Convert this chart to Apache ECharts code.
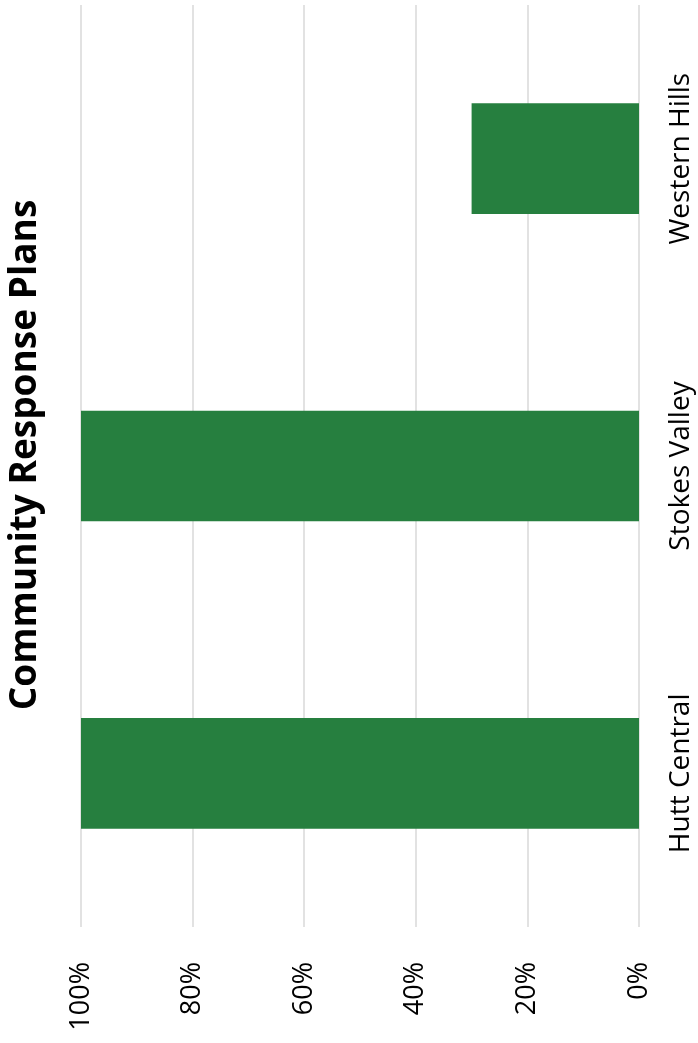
<!DOCTYPE html>
<html>
<head>
<meta charset="utf-8">
<script src="https://cdn.jsdelivr.net/npm/echarts@6/dist/echarts.min.js"></script>
<style>
  html, body { margin: 0; padding: 0; background: #ffffff; }
  #chart { width: 698px; height: 1043px; }
</style>
</head>
<body>
<div id="chart"></div>
<script>
// Share of each community with a response plan in place
const categories = ['Hutt Central', 'Stokes Valley', 'Western Hills'];
const planShare = [1.0, 1.0, 0.3];
const titleText = 'Community Response Plans';

const chart = echarts.init(document.getElementById('chart'));

chart.setOption({
  backgroundColor: '#ffffff',
  animation: false,
  grid: { left: 81, right: 59, top: 5, bottom: 116, containLabel: false },
  xAxis: {
    type: 'value',
    inverse: true,
    min: 0,
    max: 1,
    interval: 0.2,
    axisLine: { show: false },
    axisTick: { show: false },
    splitLine: { show: true, lineStyle: { color: '#D9D9D9', width: 1.5 } },
    axisLabel: {
      rotate: 90,
      margin: 35,
      fontSize: 27,
      fontFamily: 'Open Sans',
      color: '#000000',
      formatter: v => Math.round(v * 100) + '%'
    }
  },
  yAxis: {
    type: 'category',
    position: 'right',
    data: categories,
    axisLine: { show: false },
    axisTick: { show: false },
    axisLabel: {
      rotate: 90,
      margin: 42,
      align: 'center',
      verticalAlign: 'middle',
      fontSize: 28,
      fontFamily: 'Open Sans',
      color: '#000000'
    }
  },
  series: [{
    type: 'bar',
    data: planShare,
    barCategoryGap: '64%',
    itemStyle: { color: '#267F3F' }
  }],
  graphic: [{
    type: 'text',
    x: 25,
    y: 455,
    rotation: Math.PI / 2,
    style: {
      text: titleText,
      fontSize: 37,
      fontWeight: 'bold',
      fontFamily: 'Open Sans',
      fill: '#000000',
      align: 'center',
      verticalAlign: 'middle'
    }
  }]
});
</script>
</body>
</html>
